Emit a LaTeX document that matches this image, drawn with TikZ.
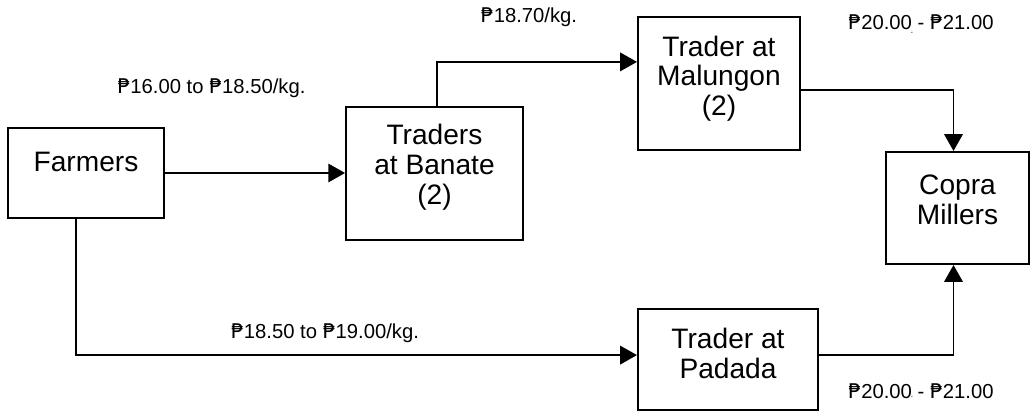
\documentclass[tikz,border=0pt]{standalone}
\usepackage{fontspec}
\setmainfont{Liberation Sans}
\newfontfamily\pesofont{DejaVu Sans}
\newcommand{\peso}{{\pesofont ₱}}
\usetikzlibrary{arrows.meta}

\begin{document}
\begin{tikzpicture}[x=0.025cm, y=-0.025cm,
    actor/.style={rectangle, draw=black, line width=1.4pt, fill=white, inner sep=0pt},
    boxtext/.style={text centered, align=center, inner sep=0pt,
        font=\fontsize{20}{21.3}\selectfont},
    price/.style={inner sep=0pt, font=\fontsize{14.4}{16}\selectfont},
    tick/.style={inner sep=0pt, font=\fontsize{4}{4}\pesofont},
    flow/.style={line width=1.4pt, -{Triangle[length=0.42cm, width=0.46cm]}}
]
\useasboundingbox (0,0) rectangle (1031,419);

\node [actor, minimum width=3.9cm, minimum height=2.25cm,
    label={[boxtext, yshift=0.27cm]center:Farmers}] (farmers) at (86,173) {};
\node [actor, minimum width=4.42cm, minimum height=3.32cm,
    label={[boxtext, yshift=0.16cm]center:Traders\\at Banate\\(2)}] (banate) at (434.5,173.5) {};
\node [actor, minimum width=4.05cm, minimum height=3.32cm,
    label={[boxtext, yshift=0.12cm]center:Trader at\\Malungon\\(2)}] (malungon) at (719,83.5) {};
\node [actor, minimum width=3.58cm, minimum height=2.8cm,
    label={[boxtext, yshift=0.2cm]center:Copra\\Millers}] (copra) at (957.5,208) {};
\node [actor, minimum width=4.5cm, minimum height=2.52cm,
    label={[boxtext, yshift=0.14cm]center:Trader at\\Padada}] (padada) at (728,359.5) {};

% prices along the flows
\node [price] (p1) at (211.5,88) {\peso16.00 to \peso18.50/kg.};
\node [price] (p2) at (529,17) {\peso18.70/kg.};
\node [price] (p3) at (921,22) {\peso20.00 - \peso21.00};
\node [tick] (t3) at (912,34) {″};
\node [price] (p4) at (325,333) {\peso18.50 to \peso19.00/kg.};
\node [price] (p5) at (921,391) {\peso20.00 - \peso21.00};
\node [tick] (t5) at (912,398) {″};

\draw [flow] (farmers.east) -- (farmers.east -| banate.west);
\draw [flow] ([xshift=0.06cm]banate.north) |- ([yshift=0.54cm]malungon.west);
\draw [flow] ([yshift=-0.16cm]malungon.east) -| ([xshift=-0.1cm]copra.north);
\draw [flow] ([xshift=-0.25cm]farmers.south) |- ([yshift=0.11cm]padada.west);
\draw [flow] ([yshift=0.11cm]padada.east) -| ([xshift=-0.1cm]copra.south);

\end{tikzpicture}
\end{document}
